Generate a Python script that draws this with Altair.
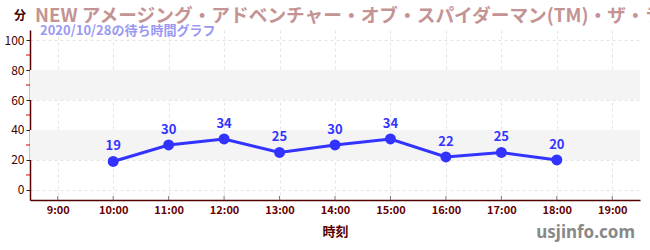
import altair as alt
import pandas as pd

hours = [10, 11, 12, 13, 14, 15, 16, 17, 18]
waits = [19, 30, 34, 25, 30, 34, 22, 25, 20]
axis_hours = [9, 10, 11, 12, 13, 14, 15, 16, 17, 18, 19]
y_ticks = [0, 20, 40, 60, 80, 100]
minor_ticks = [10, 30, 50, 70, 90]
band_lo = [20, 60]
band_hi = [40, 80]

title = "NEW アメージング・アドベンチャー・オブ・スパイダーマン(TM)・ザ・ライド 4K3D"
subtitle = "2020/10/28の待ち時間グラフ"

FONT = "Noto Sans CJK JP"
W, H = 610, 170

df = pd.DataFrame({"h": hours, "w": waits})
bands = pd.DataFrame({"lo": band_lo, "hi": band_hi})
xt = pd.DataFrame({"h": axis_hours})
mt = pd.DataFrame({"v": minor_ticks})

xs = alt.Scale(domain=[8.5, 19.5], nice=False, zero=False)
ys = alt.Scale(domain=[-6.7, 106.7], nice=False, zero=False)

X_AX = alt.Axis(values=axis_hours, labelExpr="datum.value + ':00'",
                grid=True, gridDash=[3, 3], gridColor="#e4e4e4",
                domainColor="#550000", domainWidth=1.5, ticks=False,
                labelOverlap=False,
                labelColor="#660000", labelFont=FONT, labelFontSize=11,
                labelFontWeight="bold", labelPadding=4,
                titleColor="#550000", titleFont=FONT, titleFontSize=13,
                titleFontWeight="bold", titlePadding=10)
Y_AX = alt.Axis(values=y_ticks, grid=True, gridDash=[3, 3], gridColor="#e4e4e4",
                domainColor="#550000", domainWidth=1.5, tickColor="#222222",
                labelOverlap=False,
                tickSize=4, labelColor="#440000", labelFont=FONT,
                labelFontSize=12, labelPadding=2)


def X(f):
    return alt.X(f, scale=xs, title="時刻", axis=X_AX)


def Y(f):
    return alt.Y(f, scale=ys, title=None, axis=Y_AX)


band = alt.Chart(bands).mark_rect(color="#f4f4f4").encode(
    y=Y("lo:Q"), y2="hi:Q",
    x=alt.value(0), x2=alt.value(W),
)

xticks = alt.Chart(xt).mark_rule(color="#777777").encode(
    x=X("h:Q"), y=alt.value(H - 4), y2=alt.value(H)
)
minor = alt.Chart(mt).mark_rule(color="#dd0000").encode(
    y=Y("v:Q"), x=alt.value(-4), x2=alt.value(0)
)

line = alt.Chart(df).mark_line(color="#3333ff", strokeWidth=3).encode(
    x=X("h:Q"), y=Y("w:Q")
)
pts = alt.Chart(df).mark_circle(color="#3333ff", size=120, opacity=1).encode(
    x=X("h:Q"), y=Y("w:Q")
)
labels = alt.Chart(df).mark_text(color="#3333ff", font=FONT, fontSize=13,
                                 fontWeight="bold", dy=-15).encode(
    x=X("h:Q"), y=Y("w:Q"), text="w:Q"
)

deco = pd.DataFrame({"t": [title]})
ttl = alt.Chart(deco).mark_text(color="#c49494", font=FONT, fontSize=18.7, fontWeight="bold",
                                align="left", baseline="middle").encode(
    x=alt.value(5), y=alt.value(-14), text=alt.value(title))
sub = alt.Chart(deco).mark_text(color="#9999f2", font=FONT, fontSize=13, fontWeight="bold",
                                align="left", baseline="middle").encode(
    x=alt.value(10), y=alt.value(1), text=alt.value(subtitle))
unit = alt.Chart(deco).mark_text(color="#440000", font=FONT, fontSize=12, fontWeight="bold",
                                 align="center", baseline="middle").encode(
    x=alt.value(-10), y=alt.value(-14), text=alt.value("分"))
site = alt.Chart(deco).mark_text(color="#888888", font="Noto Sans", fontSize=17, fontWeight="bold",
                                 align="right", baseline="middle").encode(
    x=alt.value(605), y=alt.value(203), text=alt.value("usjinfo.com"))

chart = alt.layer(band, xticks, minor, line, pts, labels, ttl, sub, unit, site).properties(
    width=W, height=H,
    autosize=alt.AutoSizeParams(type="none"),
    padding={"left": 30, "top": 30, "right": 10, "bottom": 50},
).configure(background="white", view=alt.ViewConfig(stroke=None))

chart.save("out.html", embed_options={"renderer": "svg", "actions": False})
